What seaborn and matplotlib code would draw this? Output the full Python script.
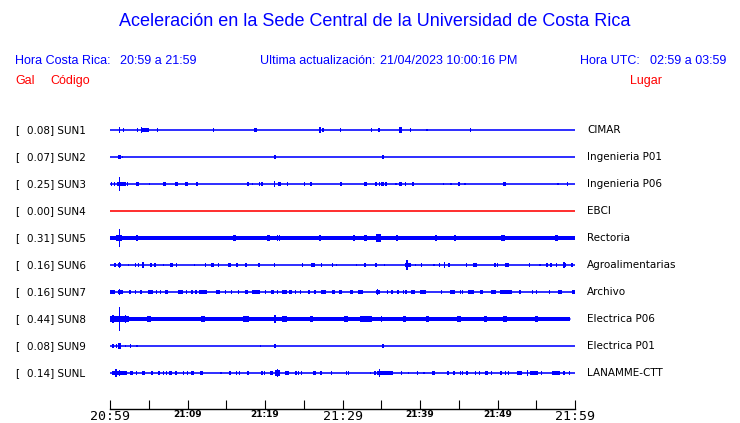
import numpy as np
import pandas as pd
import matplotlib
matplotlib.use("Agg")
import matplotlib.pyplot as plt
import seaborn as sns
from matplotlib.transforms import blended_transform_factory

# ---------------- data ----------------
codes = ["SUN1", "SUN2", "SUN3", "SUN4", "SUN5", "SUN6", "SUN7", "SUN8", "SUN9", "SUNL"]
gal = [0.08, 0.07, 0.25, 0.00, 0.31, 0.16, 0.16, 0.44, 0.08, 0.14]
places = ["CIMAR", "Ingenieria P01", "Ingenieria P06", "EBCI", "Rectoria",
          "Agroalimentarias", "Archivo", "Electrica P06", "Electrica P01", "LANAMME-CTT"]
trace_end = [60, 60, 60, 60, 60, 60, 60, 59.3, 60, 60]   # minutes after 20:59
noise_px = [0, 0, 0, 0, 2.0, 0, 0, 1.8, 0, 0]           # background noise half-band
trace_colors = ["#0000ff", "#0000ff", "#0000ff", "#ff0000", "#0000ff",
                "#0000ff", "#0000ff", "#0000ff", "#0000ff", "#0000ff"]
tick_minutes = list(range(0, 61, 5))
tick_labels = ["20:59", "", "21:09", "", "21:19", "", "21:29", "", "21:39", "", "21:49", "", "21:59"]
major_labels = ["20:59", "21:29", "21:59"]

# events: (minute, half amplitude in px, duration in minutes)
ev_sun1 = [(1.2, 2.5, 0.15), (1.72, 1.5, 0.13), (3.52, 1.2, 0.13), (4.58, 2.0, 0.98), (4.1, 2.5, 0.15),
           (6.1, 1.5, 0.13), (13.33, 1.2, 0.13), (18.75, 1.5, 0.35), (27.1, 2.5, 0.15), (27.5, 1.5, 0.13),
           (29.77, 1.5, 0.2), (33.77, 1.2, 0.13), (34.7, 1.5, 0.25), (37.5, 2.5, 0.45), (38.75, 1.5, 0.13),
           (40.9, 0.8, 0.13), (46.5, 1.5, 0.13)]
ev_sun2 = [(1.2, 2.0, 0.4), (1.6, 1.0, 0.13), (21.3, 1.3, 0.2), (35.2, 1.3, 0.25)]
ev_sun3 = [(0.22, 1.2, 0.13), (0.55, 1.5, 0.13), (1.45, 2.0, 1.16), (1.2, 7.0, 0.15), (2.23, 1.2, 0.13),
           (3.57, 1.5, 0.4), (5.07, 0.8, 0.13), (7.0, 1.5, 0.4), (8.6, 1.5, 0.3), (9.9, 1.5, 0.4),
           (11.2, 1.5, 0.3), (17.8, 1.2, 0.13), (18.4, 1.0, 0.13), (19.3, 1.5, 0.13), (19.6, 1.2, 0.13),
           (21.2, 2.5, 0.2), (21.9, 1.5, 0.4), (22.9, 1.5, 0.13), (25.1, 1.5, 0.13), (25.9, 1.5, 0.3),
           (29.8, 1.5, 0.2), (33.0, 1.5, 0.45), (34.3, 1.2, 0.13), (34.8, 1.5, 0.13), (35.2, 1.5, 0.4),
           (35.6, 1.2, 0.13), (36.9, 0.8, 0.13), (37.5, 1.5, 0.3), (38.1, 1.5, 0.13), (39.1, 1.5, 0.13),
           (43.0, 1.0, 0.13), (44.0, 0.8, 0.13), (45.0, 1.5, 0.3), (45.8, 1.0, 0.13), (50.9, 1.5, 0.3),
           (57.8, 0.8, 0.13), (59.0, 1.5, 0.13)]
ev_sun4 = []
ev_sun5 = [(0.13, 2.0, 0.13), (1.2, 2.3, 0.75), (1.2, 9.0, 0.15), (3.45, 3.0, 0.3), (4.68, 2.0, 0.13),
           (6.6, 2.0, 0.13), (9.3, 2.0, 0.13), (9.97, 2.0, 0.13), (10.6, 2.0, 0.13), (10.97, 2.0, 0.13),
           (16.04, 2.5, 0.4), (20.5, 2.2, 0.4), (21.6, 3.0, 0.15), (21.9, 2.2, 0.13), (23.2, 2.0, 0.13),
           (24.4, 2.0, 0.13), (27.1, 2.2, 0.25), (27.6, 2.0, 0.13), (29.7, 2.0, 0.13), (31.5, 3.0, 0.2),
           (33.0, 3.0, 0.4), (34.7, 3.5, 0.65), (37.0, 2.2, 0.25), (38.4, 2.0, 0.13), (39.0, 2.0, 0.13),
           (40.2, 2.0, 0.13), (42.1, 2.5, 0.3), (43.0, 2.0, 0.13), (43.35, 2.0, 0.13), (43.9, 2.0, 0.13),
           (44.5, 2.2, 0.25), (44.9, 2.0, 0.13), (46.5, 2.0, 0.13), (47.7, 2.0, 0.13), (50.7, 2.5, 0.45),
           (52.0, 2.0, 0.13), (55.8, 2.0, 0.13), (56.3, 2.0, 0.13), (57.6, 2.2, 0.3), (58.8, 2.0, 0.13),
           (59.4, 2.0, 0.13)]
ev_sun6 = [(0.65, 1.2, 0.13), (1.2, 1.5, 0.45), (1.2, 2.3, 0.15), (2.36, 1.0, 0.13), (3.3, 1.2, 0.13),
           (3.65, 1.2, 0.13), (4.3, 2.5, 0.3), (5.25, 1.5, 0.3), (5.8, 1.2, 0.13), (6.9, 1.0, 0.13),
           (7.9, 1.5, 0.35), (8.6, 1.2, 0.13), (10.9, 1.0, 0.13), (12.35, 1.2, 0.13), (13.2, 1.5, 0.35),
           (13.97, 1.2, 0.13), (15.26, 1.5, 0.13), (15.5, 1.2, 0.13), (16.4, 1.5, 0.3), (17.55, 1.2, 0.13),
           (19.2, 1.5, 0.25), (21.2, 1.2, 0.13), (24.8, 1.2, 0.13), (26.2, 1.5, 0.45), (27.3, 1.2, 0.13),
           (28.7, 1.2, 0.13), (29.2, 1.0, 0.13), (31.8, 0.8, 0.13), (32.9, 1.5, 0.3), (34.3, 1.5, 0.3),
           (35.4, 1.0, 0.13), (38.4, 1.7, 0.8), (38.3, 4.3, 0.15), (39.4, 1.0, 0.13), (40.2, 1.2, 0.13),
           (41.8, 1.0, 0.13), (42.5, 1.2, 0.13), (43.2, 2.5, 0.15), (43.7, 1.5, 0.3), (46.0, 1.2, 0.13),
           (47.1, 1.5, 0.45), (49.7, 1.2, 0.13), (50.0, 1.2, 0.13), (51.2, 1.5, 0.45), (54.1, 1.2, 0.13),
           (55.5, 1.0, 0.13), (56.4, 1.2, 0.13), (56.9, 1.2, 0.13), (57.6, 1.2, 0.13), (58.6, 2.0, 0.4),
           (58.6, 3.0, 0.15), (59.6, 1.2, 0.13)]
ev_sun7 = [(0.32, 1.5, 0.65), (1.2, 2.5, 0.15), (1.35, 1.7, 0.72), (2.6, 1.2, 0.13), (3.3, 1.2, 0.13),
           (3.96, 1.5, 0.25), (5.18, 1.5, 0.65), (6.0, 1.2, 0.13), (6.5, 1.2, 0.13), (7.3, 1.5, 0.43),
           (9.1, 1.5, 0.57), (9.9, 1.2, 0.13), (10.6, 1.5, 0.3), (11.1, 1.2, 0.13), (12.0, 1.5, 0.95),
           (13.9, 1.5, 0.55), (14.9, 1.2, 0.13), (15.7, 1.2, 0.13), (16.55, 1.2, 0.13), (17.6, 1.5, 0.43),
           (18.8, 1.5, 1.07), (20.1, 1.2, 0.13), (20.97, 1.5, 0.47), (21.6, 1.2, 0.13), (22.5, 1.5, 0.57),
           (23.27, 1.5, 0.35), (23.9, 1.2, 0.13), (24.6, 1.2, 0.13), (25.7, 1.2, 0.13), (26.45, 1.2, 0.13),
           (27.6, 1.5, 0.65), (28.8, 1.5, 0.43), (29.7, 1.5, 0.43), (31.2, 1.5, 0.43), (32.3, 1.5, 0.57),
           (34.6, 1.5, 0.6), (34.5, 2.5, 0.15), (35.8, 1.5, 0.2), (36.4, 1.2, 0.13), (37.2, 1.5, 0.26),
           (37.9, 1.2, 0.13), (38.2, 1.2, 0.13), (39.1, 1.5, 0.43), (40.4, 1.5, 0.77), (42.8, 1.2, 0.13),
           (44.2, 1.5, 0.65), (45.2, 1.2, 0.13), (45.5, 1.2, 0.13), (46.6, 1.5, 0.77), (47.95, 1.5, 0.43),
           (49.5, 1.5, 0.65), (51.1, 1.5, 1.6), (52.9, 1.2, 0.13), (54.5, 1.2, 0.13), (55.0, 1.2, 0.13),
           (56.7, 1.2, 0.13), (58.1, 1.5, 0.57), (59.8, 1.5, 0.35)]
ev_sun8 = [(1.2, 2.8, 2.4), (0.4, 4.0, 0.15), (1.2, 11.5, 0.15), (2.0, 3.5, 0.15), (5.0, 2.2, 0.5),
           (12.0, 2.2, 0.6), (17.5, 2.2, 0.8), (21.3, 4.0, 0.15), (22.5, 2.2, 0.6), (26.0, 2.2, 0.5),
           (30.5, 2.2, 0.5), (33.0, 2.2, 1.5), (35.0, 2.5, 0.15), (38.0, 2.2, 0.4), (41.0, 2.2, 0.4),
           (45.0, 2.2, 0.5), (48.5, 2.2, 0.4), (51.0, 2.2, 0.5), (55.0, 2.2, 0.4)]
ev_sun9 = [(0.43, 1.5, 0.25), (0.86, 1.2, 0.13), (1.2, 2.3, 0.4), (2.0, 1.0, 0.13), (2.67, 1.2, 0.13),
           (3.5, 1.0, 0.13), (19.4, 1.0, 0.13), (21.3, 1.3, 0.25), (35.2, 1.5, 0.3)]
ev_sunl = [(1.2, 1.8, 1.95), (0.77, 3.5, 0.15), (1.2, 3.0, 0.15), (2.8, 1.5, 0.43), (3.45, 1.2, 0.13),
           (4.2, 1.2, 0.13), (4.4, 1.2, 0.13), (5.4, 1.2, 0.13), (6.3, 1.2, 0.13), (6.9, 1.2, 0.13),
           (7.3, 1.2, 0.13), (7.8, 1.5, 0.3), (8.5, 1.5, 0.3), (9.5, 1.2, 0.13), (10.0, 1.2, 0.13),
           (10.6, 1.5, 0.35), (11.8, 1.5, 0.3), (14.3, 1.0, 0.13), (15.5, 1.2, 0.13), (16.3, 1.2, 0.13),
           (16.7, 1.2, 0.13), (17.8, 1.5, 0.3), (19.6, 1.2, 0.13), (19.9, 1.2, 0.13), (20.8, 1.5, 0.35),
           (21.65, 2.3, 0.6), (21.6, 4.0, 0.15), (22.85, 1.5, 0.55), (24.0, 1.2, 0.13), (24.3, 1.2, 0.13),
           (24.7, 1.2, 0.13), (26.4, 1.5, 0.3), (27.2, 1.5, 0.3), (28.6, 1.2, 0.13), (30.5, 1.2, 0.13),
           (30.75, 1.2, 0.13), (33.6, 1.0, 0.13), (34.2, 1.2, 0.13), (35.5, 1.8, 2.0), (34.8, 3.5, 0.15),
           (37.6, 1.2, 0.13), (38.5, 1.0, 0.13), (39.65, 1.2, 0.13), (40.5, 1.0, 0.13), (41.7, 1.5, 0.43),
           (43.6, 1.5, 0.35), (44.4, 1.5, 0.3), (45.2, 1.2, 0.13), (45.5, 1.2, 0.13), (46.1, 1.5, 0.3),
           (47.2, 1.2, 0.13), (47.7, 1.2, 0.13), (48.6, 1.5, 0.3), (49.25, 1.2, 0.13), (50.45, 1.2, 0.13),
           (51.0, 1.2, 0.13), (51.4, 1.2, 0.13), (52.85, 1.5, 0.75), (53.9, 3.0, 0.15), (54.75, 1.5, 1.07),
           (55.7, 1.2, 0.13), (57.5, 1.5, 1.0), (58.6, 1.2, 0.13), (59.3, 1.2, 0.13)]
events = [ev_sun1, ev_sun2, ev_sun3, ev_sun4, ev_sun5, ev_sun6, ev_sun7, ev_sun8, ev_sun9, ev_sunl]

# ---------------- figure ----------------
sns.set_style("white")
plt.rcParams["font.family"] = ["DejaVu Sans"]

W, H = 740, 423
fig = plt.figure(figsize=(W / 100, H / 100), dpi=100)
row0_px, row_step_px = 130, 27
ax_left, ax_right, ax_bottom_px, ax_top_px = 110, 575, 409, 112
ax = fig.add_axes([ax_left / W, 1 - ax_bottom_px / H,
                   (ax_right - ax_left) / W, (ax_bottom_px - ax_top_px) / H])
ax.set_facecolor("none")
px = 1.0 / row_step_px  # one pixel in row units

# baselines via seaborn
base = pd.DataFrame({
    "t": [v for e in trace_end for v in (0, e)],
    "y": [i for i in range(len(codes)) for _ in (0, 1)],
    "station": [c for c in codes for _ in (0, 1)],
})
sns.lineplot(data=base, x="t", y="y", hue="station", palette=dict(zip(codes, trace_colors)),
             legend=False, linewidth=1.15, estimator=None, sort=False, ax=ax)

for i, (evs, col) in enumerate(zip(events, trace_colors)):
    if noise_px[i] > 0:
        ax.bar(trace_end[i] / 2, 2 * noise_px[i] * px, width=trace_end[i],
               bottom=i - noise_px[i] * px, color=col, linewidth=0)
    if evs:
        t = np.array([e[0] for e in evs])
        a = (np.array([e[1] for e in evs]) + 0.4) * px
        d = np.maximum(np.array([e[2] for e in evs]), 0.18)
        ax.bar(t, 2 * a, width=d, bottom=i - a, color=col, linewidth=0)

ax.set_xlim(0, 60)
ax.set_ylim((ax_bottom_px - row0_px) / row_step_px, (ax_top_px - row0_px) / row_step_px)
ax.set_xlabel("")
ax.set_ylabel("")
ax.set_yticks([])
for s in ["top", "left", "right"]:
    ax.spines[s].set_visible(False)
ax.spines["bottom"].set_color("black")
ax.spines["bottom"].set_linewidth(1.0)
ax.set_xticks(tick_minutes)
ax.set_xticklabels(tick_labels)
ax.tick_params(axis="x", direction="in", length=6.5, width=0.8, color="black", pad=1,
               bottom=True)
for lab in ax.get_xticklabels():
    if lab.get_text() in major_labels:
        lab.set_fontfamily("DejaVu Sans Mono")
        lab.set_fontsize(9.5)
    else:
        lab.set_fontfamily("DejaVu Sans")
        lab.set_fontsize(6.5)
        lab.set_fontweight("bold")
    lab.set_color("black")

# station labels
tr = blended_transform_factory(fig.transFigure, ax.transData)
for i in range(len(codes)):
    ax.text(15 / W, i, "[", transform=tr, ha="left", va="center", fontsize=7.5, color="black")
    ax.text(27 / W, i, f"{gal[i]:.2f}] {codes[i]}", transform=tr, ha="left", va="center",
            fontsize=7.5, color="black")
    ax.text(587 / W, i, places[i], transform=tr, ha="left", va="center", fontsize=7.5,
            color="black")

blue, red = "#0000ff", "#ff0000"
hf = "Liberation Sans"
fig.text(375 / W, 1 - 22 / H, "Aceleración en la Sede Central de la Universidad de Costa Rica",
         ha="center", va="center", fontsize=13, color=blue, family=hf)
hy = 1 - 61 / H
fig.text(15 / W, hy, "Hora Costa Rica:", ha="left", va="center", fontsize=9, color=blue, family=hf)
fig.text(120 / W, hy, "20:59 a 21:59", ha="left", va="center", fontsize=9, color=blue, family=hf)
fig.text(260 / W, hy, "Ultima actualización:", ha="left", va="center", fontsize=9, color=blue, family=hf)
fig.text(380 / W, hy, "21/04/2023 10:00:16 PM", ha="left", va="center", fontsize=9, color=blue, family=hf)
fig.text(580 / W, hy, "Hora UTC:", ha="left", va="center", fontsize=9, color=blue, family=hf)
fig.text(650 / W, hy, "02:59 a 03:59", ha="left", va="center", fontsize=9, color=blue, family=hf)
ry = 1 - 81 / H
fig.text(15 / W, ry, "Gal", ha="left", va="center", fontsize=9, color=red, family=hf)
fig.text(50 / W, ry, "Código", ha="left", va="center", fontsize=9, color=red, family=hf)
fig.text(630 / W, ry, "Lugar", ha="left", va="center", fontsize=9, color=red, family=hf)

fig.savefig("out.png", dpi=100, facecolor="white")
